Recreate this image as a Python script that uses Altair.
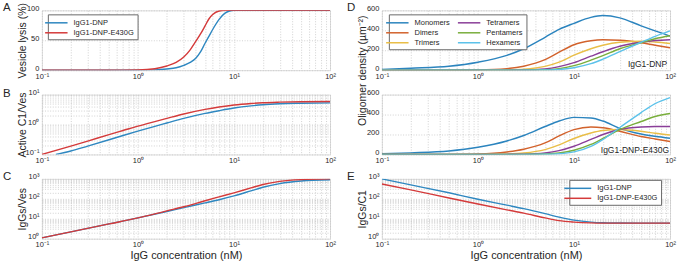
import altair as alt
import pandas as pd

FONT = "Liberation Sans"
TXT = "#262626"
GRID = "#c6c6c6"
BOX = "#8c8c8c"
BLUE = "#2E87C0"
RED = "#D43A3A"

# ---------------- Panel A: vesicle lysis (%) ----------------
conc_A = [0.1, 0.5, 1, 1.5, 2, 2.5, 3, 3.5, 4, 4.5, 5, 5.5, 6, 7, 8, 9, 10, 100]
lysis_dnp = [0, 0, 0, 0.5, 2, 4, 8, 13, 20, 31, 45, 57, 68, 85, 95, 99, 100, 100]
lysis_e430g = [0, 0, 0.5, 2.5, 7, 13, 22, 34, 48, 61, 74, 86, 93, 99, 100, 100, 100, 100]

# ---------------- Panel B: active C1 per vesicle ----------------
conc_B_dnp = [0.14, 0.2, 0.3, 0.5, 0.7, 1, 1.5, 2, 3, 5, 7, 10, 15, 20, 30, 50, 100]
c1_dnp = [0.1, 0.13, 0.19, 0.31, 0.43, 0.6, 0.87, 1.12, 1.6, 2.35, 2.9, 3.55, 4.2, 4.6, 4.95, 5.15, 5.3]
conc_B_e430g = [0.1, 0.2, 0.3, 0.5, 0.7, 1, 1.5, 2, 3, 5, 7, 10, 15, 20, 30, 50, 100]
c1_e430g = [0.1, 0.19, 0.28, 0.46, 0.63, 0.88, 1.25, 1.6, 2.25, 3.2, 3.85, 4.5, 5.05, 5.35, 5.6, 5.8, 5.9]

# ---------------- Panel C: IgGs per vesicle ----------------
conc_C = [0.1, 0.2, 0.5, 1, 2, 3, 5, 7, 10, 15, 20, 30, 50, 100]
iggs_ves_dnp = [1.1, 2.2, 5.5, 11, 23, 36, 62, 90, 140, 250, 380, 580, 780, 900]
iggs_ves_e430g = [1.1, 2.2, 5.5, 11, 25, 40, 80, 125, 200, 350, 520, 750, 920, 1000]

# ---------------- Panel D: oligomer densities ----------------
conc_D = [0.1, 0.2, 0.5, 1, 2, 3, 5, 7, 10, 15, 20, 30, 50, 70, 100]
oligomers = ["Monomers", "Dimers", "Trimers", "Tetramers", "Pentamers", "Hexamers"]
dens_dnp = {
    "Monomers":  [8, 20, 40, 80, 148, 215, 330, 410, 470, 530, 548, 525, 445, 395, 342],
    "Dimers":    [0, 0, 0.5, 3, 16, 40, 105, 180, 255, 295, 305, 300, 275, 250, 225],
    "Trimers":   [0, 0, 0, 0.5, 4, 10, 38, 80, 150, 215, 250, 280, 290, 282, 268],
    "Tetramers": [0, 0, 0, 0, 0.5, 2, 12, 35, 75, 140, 185, 240, 280, 297, 305],
    "Pentamers": [0, 0, 0, 0, 0, 0.5, 4, 15, 45, 100, 145, 215, 275, 315, 345],
    "Hexamers":  [0, 0, 0, 0, 0, 0, 2, 7, 25, 65, 110, 185, 280, 340, 395],
}
dens_e430g = {
    "Monomers":  [7, 16, 35, 72, 135, 190, 280, 335, 372, 365, 335, 262, 205, 182, 162],
    "Dimers":    [0, 0, 1, 5, 25, 52, 115, 185, 248, 275, 268, 232, 180, 155, 130],
    "Trimers":   [0, 0, 0, 1, 5, 14, 48, 95, 160, 215, 240, 250, 232, 212, 195],
    "Tetramers": [0, 0, 0, 0, 1, 3, 15, 38, 82, 150, 200, 250, 275, 280, 280],
    "Pentamers": [0, 0, 0, 0, 0, 1, 5, 15, 42, 100, 160, 250, 330, 380, 410],
    "Hexamers":  [0, 0, 0, 0, 0, 0, 2, 7, 25, 80, 150, 270, 420, 510, 570],
}
olig_colors = ["#2B84BE", "#D2622C", "#E9BE48", "#8A3E98", "#79AE3C", "#5CC2EA"]

# ---------------- Panel E: IgGs per C1 ----------------
conc_E = [0.1, 0.2, 0.5, 1, 2, 3, 5, 7, 10, 15, 20, 30, 50, 100]
iggs_c1_dnp = [1000, 500, 200, 95, 48, 32, 18, 12, 8.5, 6.8, 6.3, 6.1, 6.0, 6.0]
iggs_c1_e430g = [550, 280, 110, 55, 28, 19, 11, 8, 6.8, 6.2, 6.05, 6.0, 6.0, 6.0]

variants = ["IgG1-DNP", "IgG1-DNP-E430G"]
variant_colors = [BLUE, RED]

# ---------------- helpers ----------------
X_GRID = [m * 10.0 ** e for e in (-1, 0, 1) for m in range(1, 10)] + [100]
Y_GRID_B = [m * 10.0 ** e for e in (-1, 0) for m in range(1, 10)] + [10]
Y_GRID_3 = [m * 10.0 ** e for e in (0, 1, 2) for m in range(1, 10)] + [1000]
POW_EXPR = ("datum.value == 0.1 ? '10⁻¹' : datum.value == 1 ? '10⁰' : "
            "datum.value == 10 ? '10¹' : datum.value == 100 ? '10²' : "
            "datum.value == 1000 ? '10³' : ''")

W, H = 289, 60


def two_series(xa, ya, xb, yb):
    rows = [{"x": x, "y": y, "s": variants[0]} for x, y in zip(xa, ya)]
    rows += [{"x": x, "y": y, "s": variants[1]} for x, y in zip(xb, yb)]
    return pd.DataFrame(rows)


def olig_df(dens):
    rows = []
    for name in oligomers:
        rows += [{"x": x, "y": y, "s": name} for x, y in zip(conc_D, dens[name])]
    return pd.DataFrame(rows)


def x_axis(title=None):
    kw = dict(values=X_GRID, labelExpr=POW_EXPR, grid=True, gridDash=[1, 1.6],
              gridColor=GRID, gridWidth=0.8, ticks=False, domain=False,
              labelFontSize=7.5, labelPadding=2, labelColor=TXT, labelFont=FONT,
              labelFlush=False, labelOverlap=False)
    if title:
        kw.update(title=title, titleFont=FONT, titleFontSize=11, titleFontWeight="normal",
                  titleColor=TXT, titleY=16.5, titleBaseline="middle")
    else:
        kw.update(title=None)
    return alt.Axis(**kw)


def y_axis(values, title=None, log=False, title_y=None):
    kw = dict(values=values, grid=True, gridDash=[1, 1.6], gridColor=GRID, gridWidth=0.8,
              ticks=False, domain=False, labelFontSize=7.5, labelPadding=3, labelOffset=-2,
              labelColor=TXT, labelFont=FONT, labelOverlap=False, labelFlush=False)
    if log:
        kw["labelExpr"] = POW_EXPR
    if title:
        kw.update(title=title, titleFont=FONT, titleFontSize=10.5, titleFontWeight="normal",
                  titleColor=TXT, titleX=-19, titleBaseline="middle")
        if title_y is not None:
            kw["titleY"] = title_y
    else:
        kw["title"] = None
    return alt.Axis(**kw)


def legend(legx, legy, half_len, columns=1):
    return alt.Legend(
        orient="none", legendX=legx, legendY=legy, title=None, columns=columns,
        symbolType=f"M-{half_len},0H{half_len}", symbolSize=81, symbolStrokeWidth=1.5,
        labelFont=FONT, labelFontSize=7.5, labelColor=TXT,
        labelOffset=4.5 * half_len + 4.5 - 9 + 5,
        fillColor="white", strokeColor="#6a6a6a", padding=3, rowPadding=1,
        columnPadding=4, symbolOffset=0,
    )


def lines(df, ydom, ytype, yaxis, cdom, crange, leg, xtitle=None):
    return alt.Chart(df).mark_line(strokeWidth=1.4, interpolate="monotone", clip=True).encode(
        x=alt.X("x:Q", scale=alt.Scale(type="log", domain=[0.1, 100], nice=False), axis=x_axis(xtitle)),
        y=alt.Y("y:Q", scale=alt.Scale(type=ytype, domain=ydom, nice=False, zero=False), axis=yaxis),
        color=alt.Color("s:N", scale=alt.Scale(domain=cdom, range=crange), legend=leg),
    )


def letter(ch, dx, dy):
    return alt.Chart(pd.DataFrame({"t": [ch]})).mark_text(
        font=FONT, fontSize=11.5, color=TXT, align="left", baseline="middle"
    ).encode(text="t:N", x=alt.value(dx), y=alt.value(dy))


def note(txt, dx, dy):
    return alt.Chart(pd.DataFrame({"t": [txt]})).mark_text(
        font=FONT, fontSize=8.5, color=TXT, align="right", baseline="middle"
    ).encode(text="t:N", x=alt.value(dx), y=alt.value(dy))


def anchor(dx, dy):
    return alt.Chart(pd.DataFrame({"a": [0]})).mark_rule(opacity=0, strokeWidth=0).encode(
        x=alt.value(dx), x2=alt.value(dx), y=alt.value(dy), y2=alt.value(dy))


# ---------------- panels ----------------
A = alt.layer(
    lines(two_series(conc_A, lysis_dnp, conc_A, lysis_e430g), [0, 100], "linear",
          y_axis([0, 50, 100], "Vesicle lysis (%)"), variants, variant_colors,
          legend(6, 4, 2.5)),
    letter("A", -39, -2.5),
    anchor(-41, -9),
).properties(width=W, height=H)

B = alt.layer(
    lines(two_series(conc_B_dnp, c1_dnp, conc_B_e430g, c1_e430g), [0.1, 10], "log",
          y_axis(Y_GRID_B, "Active C1/Ves", log=True), variants, variant_colors, None),
    letter("B", -39, -0.5),
).properties(width=W, height=H)

C = alt.layer(
    lines(two_series(conc_C, iggs_ves_dnp, conc_C, iggs_ves_e430g), [1, 1000], "log",
          y_axis(Y_GRID_3, "IgGs/Ves", log=True), variants, variant_colors, None,
          xtitle="IgG concentration (nM)"),
    letter("C", -39, -2),
).properties(width=W, height=H)

D1 = alt.layer(
    lines(olig_df(dens_dnp), [0, 600], "linear",
          y_axis([0, 200, 400, 600], "Oligomer density (µm⁻²)", title_y=60),
          oligomers, olig_colors, legend(7, 4, 2.5, columns=2)),
    note("IgG1-DNP", 286, 54),
    letter("D", -35, -2.5),
).properties(width=W, height=H)

D2 = alt.layer(
    lines(olig_df(dens_e430g), [0, 600], "linear",
          y_axis([0, 200, 400, 600]), oligomers, olig_colors, None),
    note("IgG1-DNP-E430G", 288, 55.5),
).properties(width=W, height=H)

E = alt.layer(
    lines(two_series(conc_E, iggs_c1_dnp, conc_E, iggs_c1_e430g), [1, 1000], "log",
          y_axis(Y_GRID_3, "IgGs/C1", log=True), variants, variant_colors,
          legend(188, 1, 3), xtitle="IgG concentration (nM)"),
    letter("E", -35, -2),
    anchor(W + 7, H + 23),
).properties(width=W, height=H)

chart = alt.concat(
    A, D1, B, D2, C, E, columns=2,
    spacing={"row": 24.5, "column": 52}, bounds="flush", padding=0,
).resolve_scale(
    x="independent", y="independent", color="independent"
).resolve_legend(color="independent").configure_view(
    stroke=BOX, strokeWidth=0.8
).configure(background="white", font=FONT)

chart.save("out.html", embed_options={"renderer": "svg", "actions": False})
